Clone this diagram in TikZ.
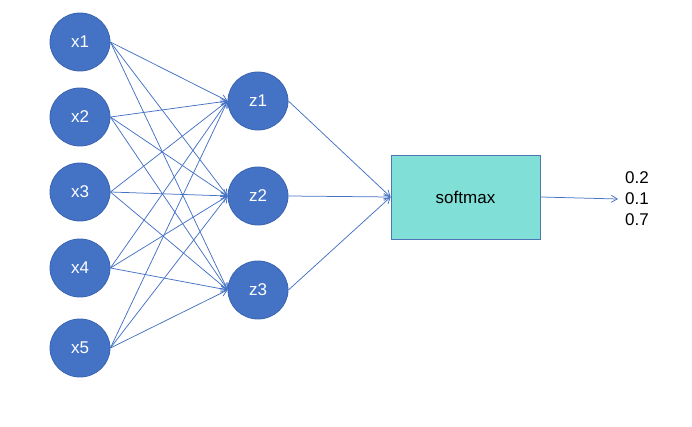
\documentclass[tikz,border=0pt]{standalone}
\usepackage{fontspec}
\setmainfont{Liberation Sans}
\usetikzlibrary{arrows.meta,shapes.geometric}
\definecolor{nodeblue}{HTML}{4472C4}
\definecolor{nodeedge}{HTML}{3A64B0}
\definecolor{boxfill}{HTML}{80E0D8}
\begin{document}
\begin{tikzpicture}[x=1pt,y=-1pt,
  neuron/.style={ellipse,draw=nodeedge,fill=nodeblue,line width=0.8pt,minimum width=60pt,minimum height=58pt,inner sep=0pt,text=white,font=\fontsize{17}{19}\selectfont},
  conn/.style={draw=nodeblue,line width=0.75pt,-{Straight Barb[length=6pt,width=7pt]}},
  smbox/.style={draw=nodeblue!80!gray,fill=boxfill,line width=0.8pt,minimum width=149pt,minimum height=84pt,inner sep=0pt,font=\fontsize{17}{19}\selectfont}]
\useasboundingbox (0,0) rectangle (692,427);
\node[neuron] (x1) at (80,42) {x1};
\node[neuron] (x2) at (80,117) {x2};
\node[neuron] (x3) at (80,192) {x3};
\node[neuron] (x4) at (80,268) {x4};
\node[neuron] (x5) at (80,348) {x5};
\node[neuron] (z1) at (258,101) {z1};
\node[neuron] (z2) at (258,196) {z2};
\node[neuron] (z3) at (258,290) {z3};
\node[smbox] (sm) at (465.5,197) {softmax};
\node[align=left,anchor=west,font=\fontsize{17}{21}\selectfont,inner sep=0pt] (out) at (625,199) {0.2\\0.1\\0.7};
\coordinate (tip) at (618,199);
\foreach \i in {1,...,5}{
  \foreach \j in {1,2,3}{
    \draw[conn] (x\i.east) -- (z\j.west);
  }
}
\foreach \j in {1,2,3}{
  \draw[conn] (z\j.east) -- (sm.west);
}
\draw[conn] (sm.east) -- (tip);
\end{tikzpicture}
\end{document}
